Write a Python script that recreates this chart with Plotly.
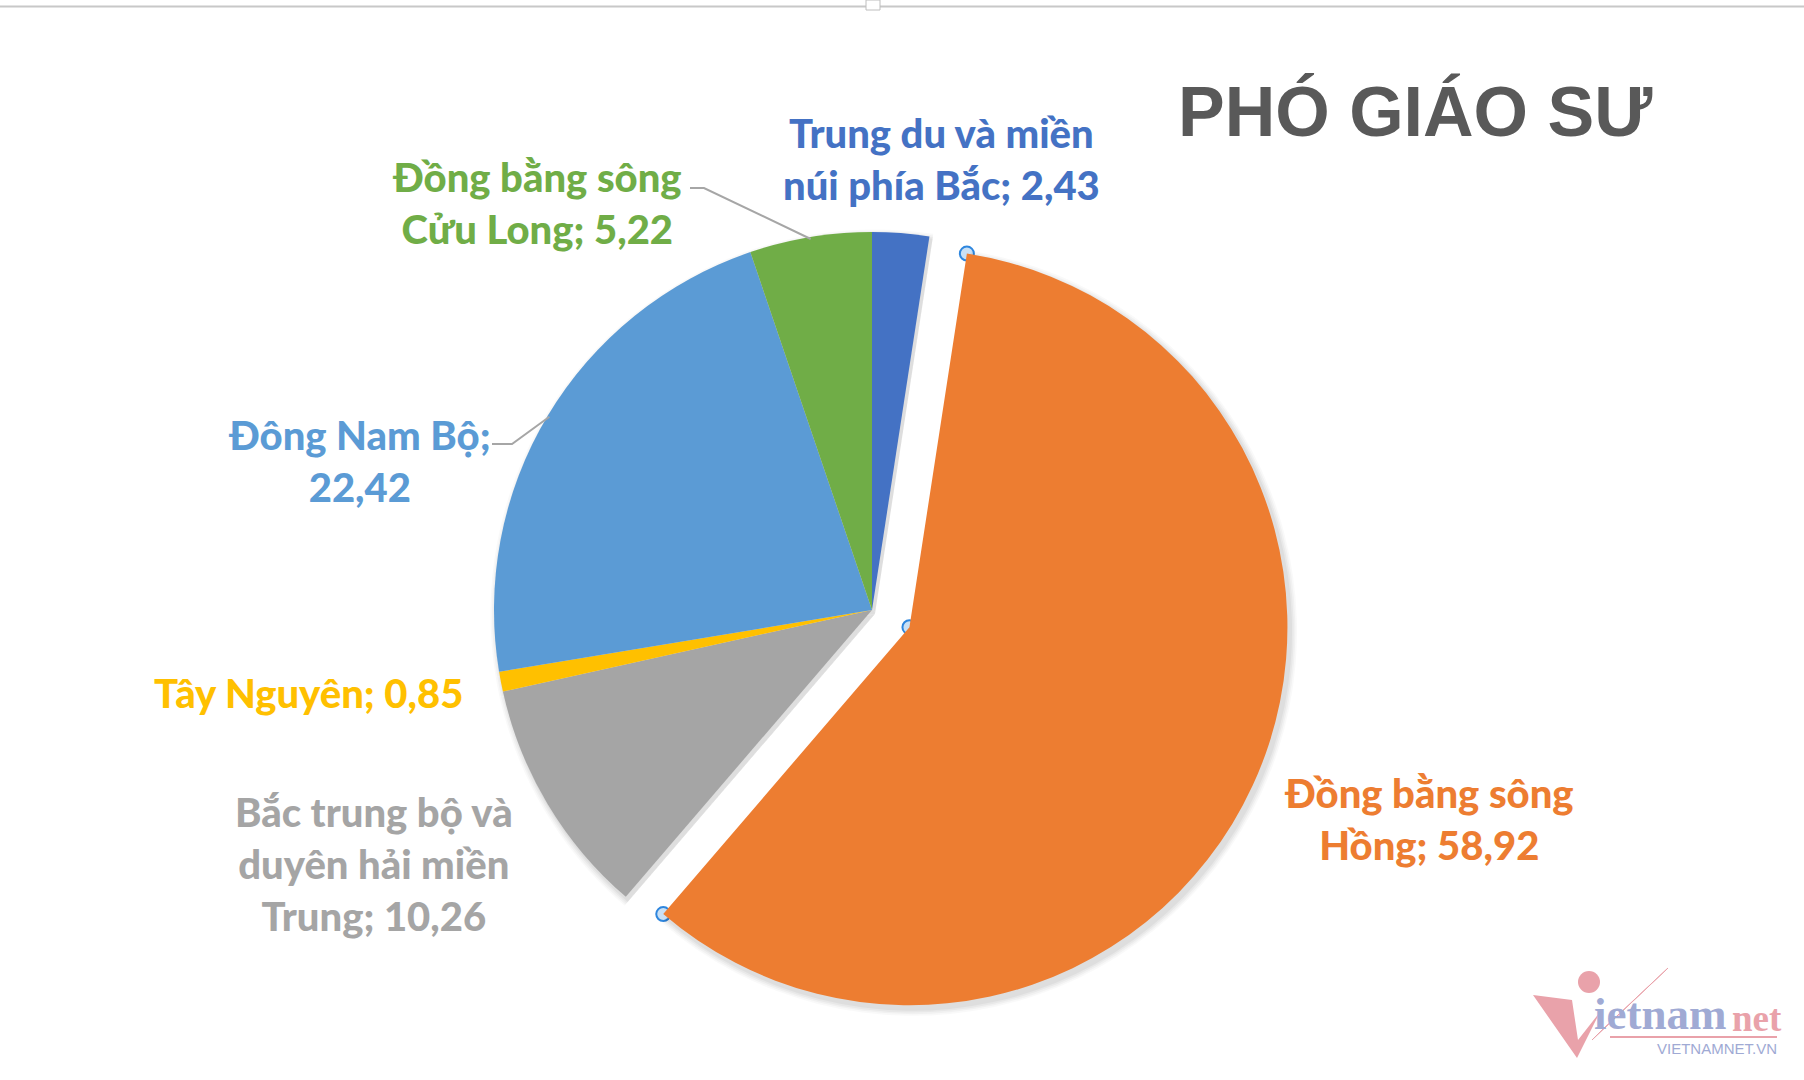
import math
import plotly.graph_objects as go

# Share of associate professors by region (%)
regions = [
    "Trung du và miền núi phía Bắc",
    "Đồng bằng sông Hồng",
    "Bắc trung bộ và duyên hải miền Trung",
    "Tây Nguyên",
    "Đông Nam Bộ",
    "Đồng bằng sông Cửu Long",
]
shares = [2.43, 58.92, 10.26, 0.85, 22.42, 5.22]
# how each label is wrapped on the chart
label_lines = [
    ["Trung du và miền", "núi phía Bắc; {v}"],
    ["Đồng bằng sông", "Hồng; {v}"],
    ["Bắc trung bộ và", "duyên hải miền", "Trung; {v}"],
    ["Tây Nguyên; {v}"],
    ["Đông Nam Bộ;", "{v}"],
    ["Đồng bằng sông", "Cửu Long; {v}"],
]
colors = ["#4472C4", "#ED7D31", "#A5A5A5", "#FFC000", "#5B9BD5", "#70AD47"]
pulls = [0, 0.109, 0, 0, 0, 0]

W, H = 1804, 1080
# pie placement in pixels
CX, CY, R = 872, 610, 378
box = 2 * R * (1 + max(pulls))


def dom(cx, cy, size):
    return dict(x=[(cx - size / 2) / W, (cx + size / 2) / W],
                y=[1 - (cy + size / 2) / H, 1 - (cy - size / 2) / H])


fig = go.Figure()

# soft outer shadow under the pie
for k, a in enumerate([0.025, 0.03, 0.035, 0.04]):
    grow = (4 - k) * 3.0
    fig.add_trace(go.Pie(
        values=shares, sort=False, direction="clockwise", rotation=0,
        pull=[p * R / (R + grow / 2) for p in pulls],
        domain=dom(CX + 3, CY + 4, box + grow * (1 + max(pulls))),
        marker=dict(colors=[f"rgba(0,0,0,{a})"] * len(shares), line=dict(width=0)),
        textinfo="none", hoverinfo="skip", showlegend=False,
    ))

fig.add_trace(go.Pie(
    labels=regions, values=shares, sort=False, direction="clockwise", rotation=0,
    pull=pulls, domain=dom(CX, CY, box),
    marker=dict(colors=colors, line=dict(width=0)),
    textinfo="none", showlegend=False,
))

total = sum(shares)
cum = [sum(shares[:i]) / total for i in range(len(shares) + 1)]


def edge_point(frac, radius=R, offset=(0.0, 0.0)):
    t = 2 * math.pi * frac
    return CX + radius * math.sin(t) + offset[0], CY - radius * math.cos(t) + offset[1]


# selection handles on the pulled-out slice
i = 1
mid = (cum[i] + cum[i + 1]) / 2
off = (pulls[i] * R * math.sin(2 * math.pi * mid), -pulls[i] * R * math.cos(2 * math.pi * mid))
hx, hy = [], []
for p in [edge_point(cum[i], R, off), (CX + off[0], CY + off[1]), edge_point(cum[i + 1], R, off)]:
    hx.append(p[0]); hy.append(p[1])
fig.add_trace(go.Scatter(
    x=hx, y=hy, mode="markers", xaxis="x", yaxis="y",
    marker=dict(size=14, color="#C9E0F5", line=dict(color="#2E86DE", width=2)),
    hoverinfo="skip", showlegend=False,
))

# data labels
label_pos = [(941, 159), (1429, 819), (374, 864), (308, 693), (359, 461), (537, 203)]
annotations = []
for lines, v, c, (lx, ly) in zip(label_lines, shares, colors, label_pos):
    val = f"{v:.2f}".replace(".", ",")
    txt = "<br>".join(s.format(v=val) for s in lines)
    annotations.append(dict(
        x=lx, y=ly, xref="x", yref="y", text=txt, showarrow=False,
        xanchor="center", yanchor="middle", align="center",
        font=dict(family="Lato", size=40, color=c, weight=900),
    ))

# chart title
annotations.append(dict(
    x=1415, y=112, xref="x", yref="y", text="PHÓ GIÁO SƯ", showarrow=False,
    xanchor="center", yanchor="middle",
    font=dict(family="Liberation Sans", size=70, color="#595959", weight="bold"),
))

# leader lines for the two labels that sit away from their slices
shapes = []
leaders = {
    5: (690, 188, 704),   # text end x, y, elbow x
    4: (492, 444, 512),
}
for idx, (tx, ty, ex) in leaders.items():
    m = (cum[idx] + cum[idx + 1]) / 2
    px, py = edge_point(m, R - 2)
    shapes.append(dict(type="path", xref="x", yref="y",
                       path=f"M{tx},{ty} L{ex},{ty} L{px:.1f},{py:.1f}",
                       line=dict(color="#A6A6A6", width=2)))

# frame line and handle along the top edge
shapes.append(dict(type="line", xref="x", yref="y", x0=0, x1=W, y0=6.5, y1=6.5,
                   line=dict(color="#C8C8C8", width=2)))
shapes.append(dict(type="rect", xref="x", yref="y", x0=866, x1=880, y0=0, y1=10,
                   fillcolor="white", line=dict(color="#BEBEBE", width=1)))

# vietnamnet watermark
pink = "#E9A2AA"
lav = "#A0AAD4"
shapes.append(dict(type="path", xref="x", yref="y",
                   path="M1533,995 L1572,1000 L1578,1040 L1600,1012 L1577,1058 Z",
                   fillcolor=pink, line=dict(width=0)))
shapes.append(dict(type="circle", xref="x", yref="y", x0=1578, x1=1600, y0=971, y1=993,
                   fillcolor=pink, line=dict(width=0)))
shapes.append(dict(type="path", xref="x", yref="y",
                   path="M1592,1040 L1668,968 L1602,1030 Z",
                   fillcolor=pink, line=dict(color=pink, width=1)))
shapes.append(dict(type="line", xref="x", yref="y", x0=1610, x1=1777, y0=1037, y1=1037,
                   line=dict(color=pink, width=2)))
annotations.append(dict(x=1727, y=1040, xref="x", yref="y", text="ietnam", showarrow=False,
                        xanchor="right", yanchor="bottom", borderpad=0,
                        font=dict(family="Liberation Serif", size=45, color=lav, weight="bold")))
annotations.append(dict(x=1731, y=1040, xref="x", yref="y", text="net", showarrow=False,
                        xanchor="left", yanchor="bottom", borderpad=0,
                        font=dict(family="Liberation Serif", size=37, color=pink, weight="bold")))
annotations.append(dict(x=1779, y=1048, xref="x", yref="y", text="VIETNAMNET.VN", showarrow=False,
                        xanchor="right", yanchor="middle",
                        font=dict(family="Liberation Sans", size=15, color=lav)))

fig.update_layout(
    width=W, height=H, margin=dict(l=0, r=0, t=0, b=0),
    paper_bgcolor="white", plot_bgcolor="rgba(0,0,0,0)",
    xaxis=dict(range=[0, W], visible=False, fixedrange=True, domain=[0, 1]),
    yaxis=dict(range=[H, 0], visible=False, fixedrange=True, domain=[0, 1]),
    annotations=annotations, shapes=shapes,
)

fig.write_html("out.html")
